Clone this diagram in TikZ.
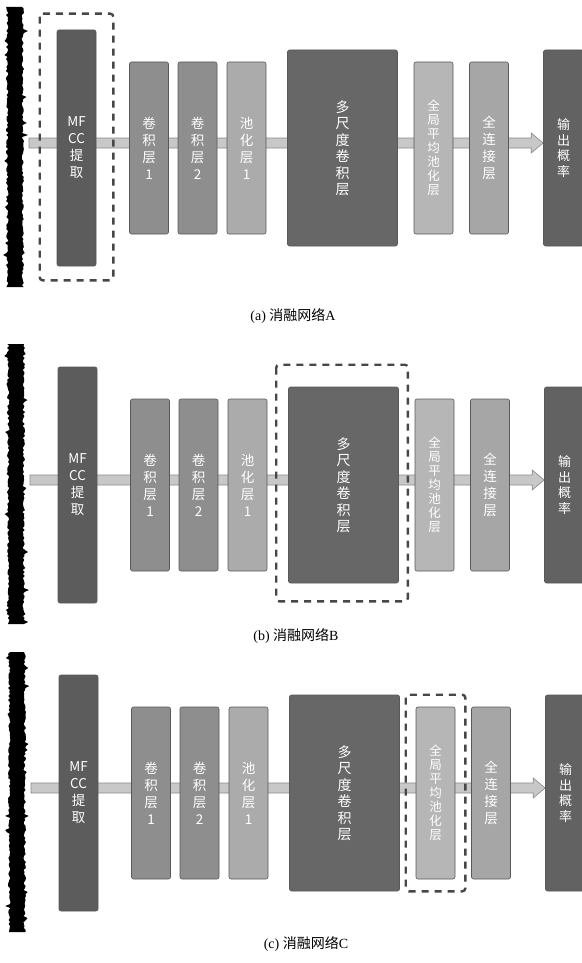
\documentclass[tikz,border=0pt]{standalone}
\usepackage{fontspec}
\setmainfont{Liberation Serif}
\newfontfamily\cjk{Noto Sans CJK SC}
\usetikzlibrary{calc,backgrounds}
\pgfdeclarelayer{bottom}
\pgfsetlayers{bottom,background,main}
\definecolor{cMfcc}{HTML}{5C5C5C}
\definecolor{cConv}{HTML}{8E8E8E}
\definecolor{cPool}{HTML}{ABABAB}
\definecolor{cMulti}{HTML}{676767}
\definecolor{cGap}{HTML}{B6B6B6}
\definecolor{cFc}{HTML}{A6A6A6}
\definecolor{cOut}{HTML}{626262}
\definecolor{cArrow}{HTML}{C8C8C8}
\definecolor{cArrowLine}{HTML}{8A8A8A}
\definecolor{cDash}{HTML}{474747}
\tikzset{
  layer/.style={draw=black!65, line width=0.6pt, rounded corners=2pt,
    minimum width=39pt, text=white, inner sep=0pt, align=center,
    font=\cjk\fontsize{13.5}{17}\selectfont},
  bigger/.style={layer, minimum width=110pt, minimum height=196pt,
    font=\cjk\fontsize{14}{16.5}\selectfont},
  dashbox/.style={draw=cDash, line width=2.4pt, dash pattern=on 7pt off 6pt,
    rounded corners=3pt},
  fatarrow/.style={fill=cArrow, draw=cArrowLine, line width=0.6pt},
  caption/.style={font=\fontsize{14}{16}\selectfont, inner sep=0pt},
  wavefill/.style={fill=black}
}
% #1 prefix, #2 arrow centre y, #3 x offset
\newcommand\drawpanel[3]{%
  \begin{scope}[xshift=#3pt]
    \fill[wavefill] (15,#2-136)
      \foreach \i in {0,2,...,280}{ -- ({15+6.5+2.5*rnd+(rnd<0.08)*5*rnd},{#2-136+\i}) }
      \foreach \i in {280,278,...,0}{ -- ({15-6.5-2.5*rnd-(rnd<0.08)*5*rnd},{#2-136+\i}) }
      -- cycle;
    \coordinate (#1start) at (29,#2);
    \node[layer, fill=cMfcc, minimum height=236pt] (#1mfcc) at (76.5,#2+5) {MF\\CC\\提\\取};
    \node[layer, fill=cConv, minimum height=172pt] (#1convA) at (149,#2+5) {卷\\积\\层\\1};
    \node[layer, fill=cConv, minimum height=172pt] (#1convB) at (197.5,#2+5) {卷\\积\\层\\2};
    \node[layer, fill=cPool, minimum height=172pt] (#1pool) at (246.5,#2+5) {池\\化\\层\\1};
    \node[bigger, fill=cMulti] (#1multi) at (342.5,#2+5) {多\\尺\\度\\卷\\积\\层};
    \node[layer, fill=cGap, minimum height=172pt, font=\cjk\fontsize{12.5}{14}\selectfont] (#1gap) at (433.5,#2+5) {全\\局\\平\\均\\池\\化\\层};
    \node[layer, fill=cFc, minimum height=172pt] (#1fc) at (489,#2+5) {全\\连\\接\\层};
    \node[layer, fill=cOut, minimum width=40pt, minimum height=196pt, font=\cjk\fontsize{13}{15.5}\selectfont] (#1out) at (563.5,#2+5) {输\\出\\概\\率};
    \coordinate (#1end) at ($(#1out.west)+(0,-5)$);
    \begin{pgfonlayer}{background}
      \draw[fatarrow] ($(#1start)+(0,-5)$) -- ($(#1end)+(-12,-5)$) -- ($(#1end)+(-12,-10)$)
        -- (#1end) -- ($(#1end)+(-12,10)$) -- ($(#1end)+(-12,5)$) -- ($(#1start)+(0,5)$) -- cycle;
    \end{pgfonlayer}
  \end{scope}%
}
\begin{document}
\begin{tikzpicture}[x=1pt,y=-1pt]
  \useasboundingbox (0,0) rectangle (581,963);
  \begin{pgfonlayer}{bottom}
    \fill[white] (0,0) rectangle (581,963);
  \end{pgfonlayer}
  \pgfmathsetseed{4711}
  % panel (a)
  \drawpanel{pa}{143}{0}
  \draw[dashbox] ($(pamfcc.north west)+(-17,-16)$) rectangle ($(pamfcc.south east)+(17,14)$);
  \node[caption] (capa) at (293,316) {(a) {\cjk 消融网络}A};
  % panel (b)
  \drawpanel{pb}{480}{1}
  \draw[dashbox] ($(pbmulti.north west)+(-12,-22)$) rectangle ($(pbmulti.south east)+(9,18)$);
  \node[caption] (capb) at (296,636) {(b) {\cjk 消融网络}B};
  % panel (c)
  \drawpanel{pc}{788}{2}
  \draw[dashbox] ($(pcgap.north west)+(-10,-12)$) rectangle ($(pcgap.south east)+(10,12)$);
  \node[caption] (capc) at (306,944) {(c) {\cjk 消融网络}C};
\end{tikzpicture}
\end{document}
